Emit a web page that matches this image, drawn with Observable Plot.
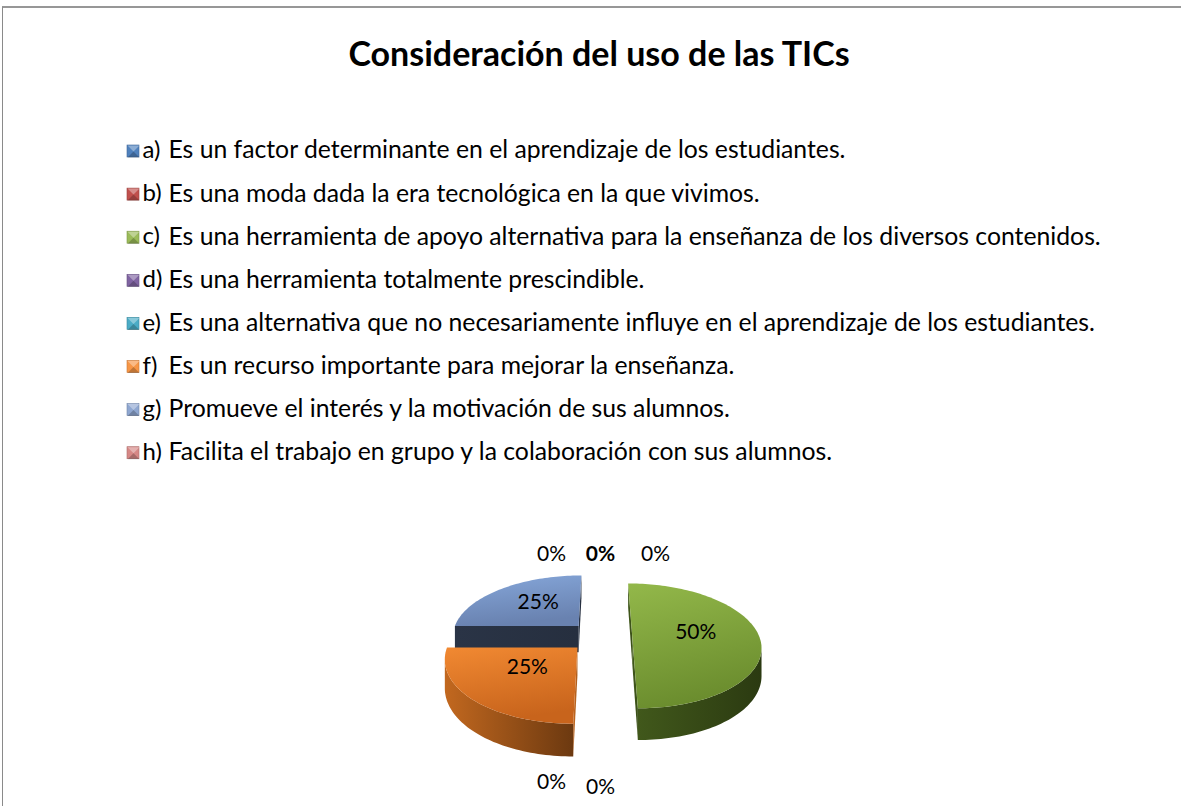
<!DOCTYPE html>
<html><head><meta charset="utf-8">
<script src="https://cdn.jsdelivr.net/npm/d3@7"></script>
<script src="https://cdn.jsdelivr.net/npm/@observablehq/plot@0.6"></script>
<style>
html,body{margin:0;padding:0;background:#fff;overflow:hidden;width:1181px;height:806px;}
#frame{position:absolute;left:2px;top:6px;width:1400px;height:1000px;border-top:2px solid #979797;border-left:1px solid #8a8a8a;}
#chart{position:absolute;left:0;top:0;}
</style></head><body>
<div id="frame"></div>
<div id="chart"></div>
<script>
// ---------- data ----------
const title = "Consideración del uso de las TICs";
const categories = ["a)", "b)", "c)", "d)", "e)", "f)", "g)", "h)"];
const descriptions = [
  "Es un factor determinante en el aprendizaje de los estudiantes.",
  "Es una moda dada la era tecnológica en la que vivimos.",
  "Es una herramienta de apoyo alternativa para la enseñanza de los diversos contenidos.",
  "Es una herramienta totalmente prescindible.",
  "Es una alternativa que no necesariamente influye en el aprendizaje de los estudiantes.",
  "Es un recurso importante para mejorar la enseñanza.",
  "Promueve el interés y la motivación de sus alumnos.",
  "Facilita el trabajo en grupo y la colaboración con sus alumnos."
];
const percentages = [0, 0, 50, 0, 0, 25, 25, 0];

// ---------- styles ----------
const legendColors = ["#4f81bd", "#c0504d", "#9bbb59", "#8064a2", "#4bacc6", "#f79646", "#8fa7d1", "#d68886"];
const topLight  = ["#5b8cc8", "#c95a57", "#93b84a", "#8a6cab", "#55b6d0", "#f18932", "#86a7da", "#dc9291"];
const topDark   = ["#3f6aa0", "#a03f3c", "#6b8d2e", "#6a5288", "#3a93ab", "#c8641c", "#6982b0", "#b86e6c"];
const sideLight = ["#2f4d73", "#7a2f2c", "#41581b", "#4e3c66", "#2a6a7c", "#c2681f", "#2a3446", "#8a4f4e"];
const sideDark  = ["#1f3350", "#521f1d", "#2b3a11", "#342844", "#1c4854", "#6c3910", "#232b39", "#5d3534"];

// ---------- layout ----------
const W = 1181, H = 806;
const CX = 600, CY = 636, RX = 127, RY = 61, P = 0.15, DEPTH = 27, EXPLODE = 0.25;
const EYE = [0, 1 / P];
const FONT = "Lato, 'Open Sans', sans-serif";

const dir = t => [Math.sin(t), -Math.cos(t)];
function proj(u, v, z) {
  const s = 1 / (1 - P * v);
  return {x: CX + RX * u * s, y: CY + RY * v * s + DEPTH * z * s};
}

const arcs = d3.pie().sort(null).value(d => d)(percentages);
const shapes = [];
const slices = arcs.map((a, i) => {
  const phi = (a.startAngle + a.endAngle) / 2;
  const d = dir(phi);
  return {i, a, phi, O: [d[0] * EXPLODE, d[1] * EXPLODE]};
});
slices.filter(s => s.a.value > 0).sort((p, q) => p.O[1] - q.O[1]).forEach(s => {
  const {i, a, O} = s;
  const a0 = a.startAngle, a1 = a.endAngle;
  const N = Math.max(2, Math.ceil((a1 - a0) / (Math.PI / 120)));
  const thetas = d3.range(N + 1).map(k => a0 + (a1 - a0) * k / N);
  const rim = t => { const d = dir(t); return [O[0] + d[0], O[1] + d[1]]; };
  // radial faces
  [[a0, [-Math.cos(a0), -Math.sin(a0)]], [a1, [Math.cos(a1), Math.sin(a1)]]].forEach(([t, n]) => {
    const d = dir(t);
    const M = [O[0] + 0.5 * d[0], O[1] + 0.5 * d[1]];
    if (n[0] * (EYE[0] - M[0]) + n[1] * (EYE[1] - M[1]) > 0) {
      const R = rim(t);
      shapes.push({fill: `url(#face${i})`, pts: [proj(O[0], O[1], 0), proj(R[0], R[1], 0), proj(R[0], R[1], 1), proj(O[0], O[1], 1)]});
    }
  });
  // outer side
  const vis = thetas.filter(t => {
    const d = dir(t), R = rim(t);
    return d[0] * (EYE[0] - R[0]) + d[1] * (EYE[1] - R[1]) > 0.02;
  });
  if (vis.length >= 2) {
    const top = vis.map(t => { const R = rim(t); return proj(R[0], R[1], 0); });
    const bot = vis.map(t => { const R = rim(t); return proj(R[0], R[1], 1); }).reverse();
    shapes.push({fill: `url(#side${i})`, pts: top.concat(bot)});
  }
  // top surface
  shapes.push({fill: `url(#top${i})`, pts: [proj(O[0], O[1], 0)].concat(thetas.map(t => { const R = rim(t); return proj(R[0], R[1], 0); }))});
});

// data labels
const zeroSpread = {top: [[0, 0], [55, 0], [-49, 0]], bottom: [[-49, -5], [0, 0]]};
let topCount = 0, botCount = 0;
const pieLabels = slices.map(s => {
  const {a, phi, O} = s;
  const txt = `${a.value}%`;
  const d = dir(phi);
  if (a.value > 0) {
    const r = 0.5;
    const p = proj(O[0] + r * d[0], O[1] + r * d[1], 0);
    return {x: p.x, y: p.y - 4, text: txt, bold: false};
  }
  const R = [O[0] + d[0], O[1] + d[1]];
  if (d[1] < 0) {
    const p = proj(R[0], R[1], 0);
    const k = topCount++;
    const off = zeroSpread.top[k % 3];
    return {x: p.x + off[0], y: p.y - 18 + off[1], text: txt, bold: k === 0};
  } else {
    const p = proj(R[0], R[1], 1);
    const off = zeroSpread.bottom[botCount++ % 2];
    return {x: p.x + off[0], y: p.y + 24 + off[1], text: txt, bold: false};
  }
});

// legend
const LEG_Y0 = 150, LEG_DY = 43.1, MK_X = 127, MK_S = 12, KEY_X = 142, DESC_X = 168;
const legend = categories.map((c, i) => ({key: c, desc: descriptions[i], color: legendColors[i], y: LEG_Y0 + i * LEG_DY}));
const markerShapes = [];
legend.forEach(l => {
  const x1 = MK_X, x2 = MK_X + MK_S, y1 = l.y - MK_S / 2 + 1, y2 = l.y + MK_S / 2 + 1;
  const cx = (x1 + x2) / 2, cy = (y1 + y2) / 2;
  markerShapes.push({fill: "rgba(255,255,255,0.35)", pts: [{x: x1, y: y1}, {x: x2, y: y1}, {x: cx, y: cy}]});
  markerShapes.push({fill: "rgba(0,0,0,0.22)", pts: [{x: x1, y: y2}, {x: x2, y: y2}, {x: cx, y: cy}]});
});

const marks = [];
shapes.forEach(sh => marks.push(Plot.line(sh.pts, {x: "x", y: "y", fill: () => sh.fill, stroke: "none", curve: "linear"})));
marks.push(Plot.rect(legend, {x1: () => MK_X, x2: () => MK_X + MK_S, y1: d => d.y - MK_S / 2 + 1, y2: d => d.y + MK_S / 2 + 1, fill: "color", stroke: d => d3.color(d.color).darker(0.6).formatHex(), strokeWidth: 0.6}));
markerShapes.forEach(sh => marks.push(Plot.line(sh.pts, {x: "x", y: "y", fill: () => sh.fill, stroke: "none"})));
marks.push(Plot.text(legend, {x: () => KEY_X, y: "y", text: "key", textAnchor: "start", fontSize: 24, fill: "#000", fontFamily: FONT}));
marks.push(Plot.text(legend, {x: () => DESC_X, y: "y", text: "desc", textAnchor: "start", fontSize: 24.75, fill: "#000", fontFamily: FONT}));
marks.push(Plot.text([title], {x: () => W / 2 + 8, y: () => 55, text: d => d, fontSize: 34, fontWeight: "bold", fill: "#000", fontFamily: FONT}));
marks.push(Plot.text(pieLabels.filter(d => !d.bold), {x: "x", y: "y", text: "text", fontSize: 21, fill: "#000", fontFamily: FONT}));
marks.push(Plot.text(pieLabels.filter(d => d.bold), {x: "x", y: "y", text: "text", fontSize: 21, fontWeight: "bold", fill: "#000", fontFamily: FONT}));

const chart = Plot.plot({
  width: W, height: H, margin: 0,
  x: {domain: [0, W], range: [0, W], axis: null},
  y: {domain: [0, H], range: [0, H], axis: null},
  color: {type: "identity"},
  style: {background: "transparent", overflow: "visible"},
  marks
});

// gradients
const svg = d3.select(chart);
const defs = svg.insert("defs", ":first-child");
categories.forEach((c, i) => {
  const gt = defs.append("linearGradient").attr("id", `top${i}`).attr("x1", 0).attr("y1", 0).attr("x2", 0.25).attr("y2", 1);
  gt.append("stop").attr("offset", "0%").attr("stop-color", topLight[i]);
  gt.append("stop").attr("offset", "100%").attr("stop-color", topDark[i]);
  const gs = defs.append("linearGradient").attr("id", `side${i}`).attr("x1", 0).attr("y1", 0).attr("x2", 1).attr("y2", 0);
  gs.append("stop").attr("offset", "0%").attr("stop-color", sideLight[i]);
  gs.append("stop").attr("offset", "100%").attr("stop-color", sideDark[i]);
  const gf = defs.append("linearGradient").attr("id", `face${i}`).attr("x1", 0).attr("y1", 0).attr("x2", 1).attr("y2", 0);
  gf.append("stop").attr("offset", "0%").attr("stop-color", sideLight[i]);
  gf.append("stop").attr("offset", "100%").attr("stop-color", d3.color(sideLight[i]).darker(0.3).formatHex());
});

document.getElementById("chart").appendChild(chart);
</script>
</body></html>
